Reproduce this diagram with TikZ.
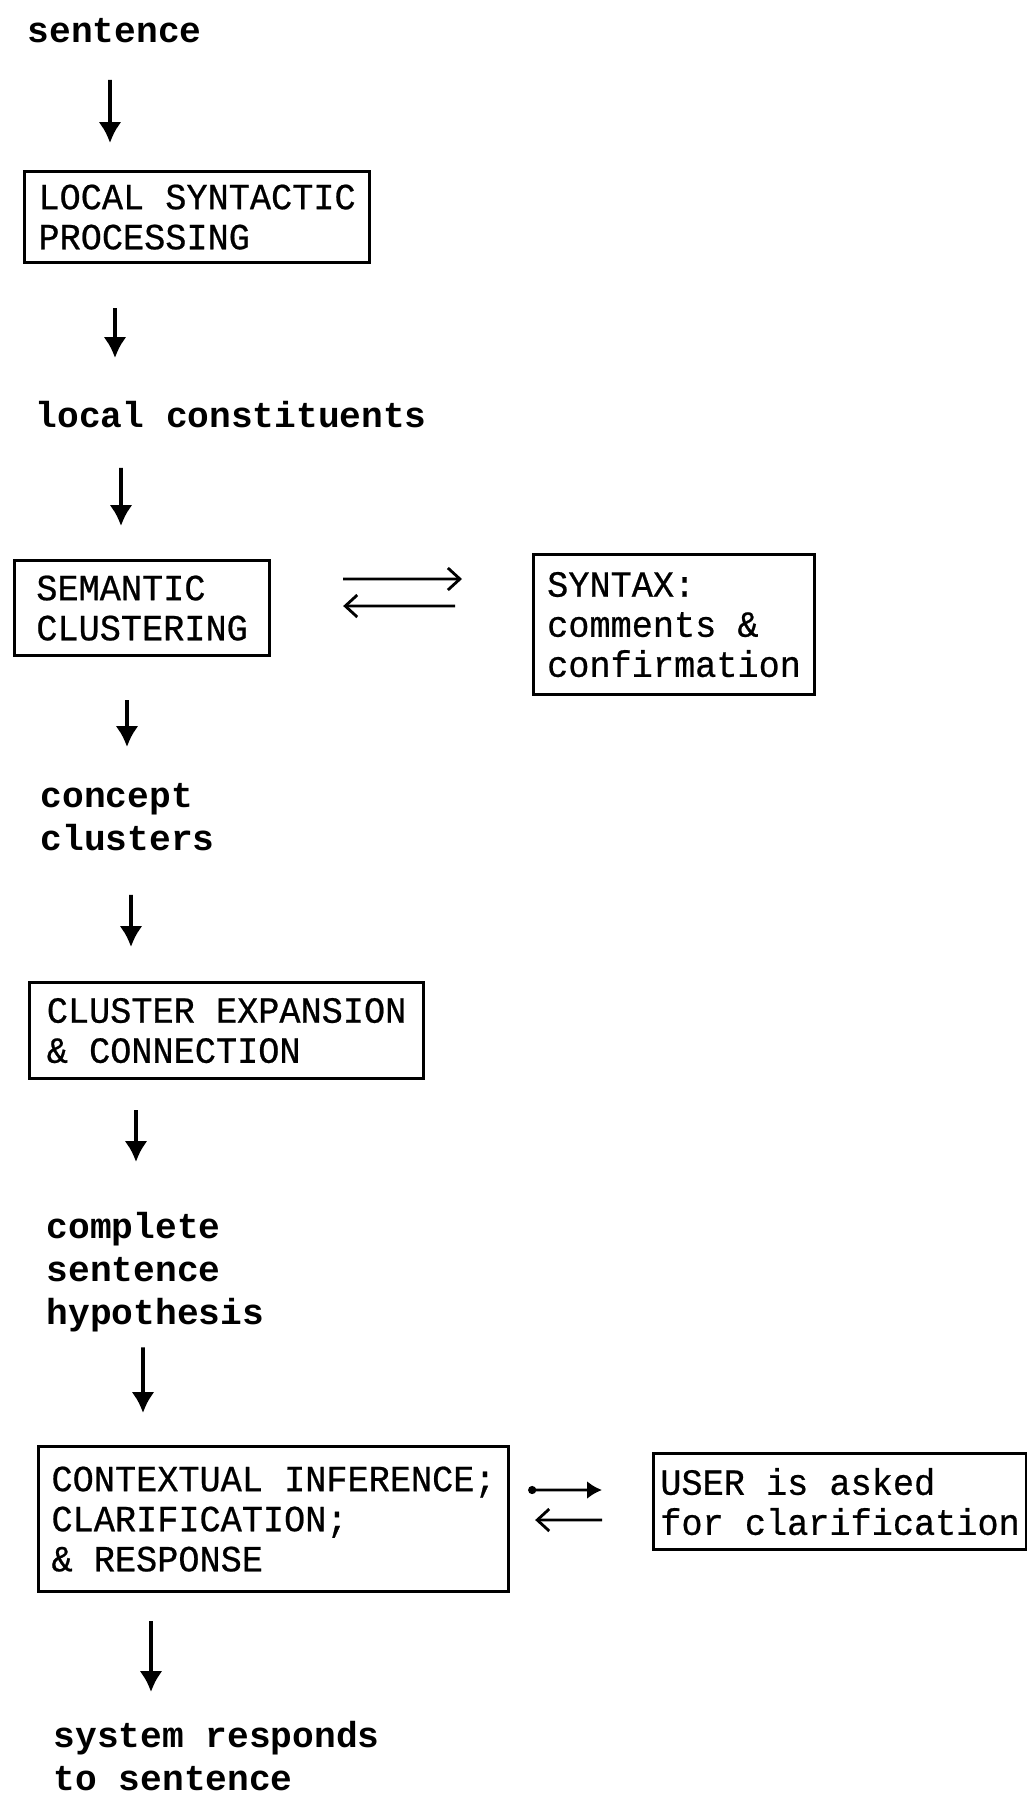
\documentclass[tikz,border=0pt]{standalone}
\usepackage{fontspec}
\usetikzlibrary{arrows.meta}

\newfontfamily\lblfont{Liberation Mono}
\newfontfamily\bxfont[FakeStretch=0.955,FakeBold=0.6]{Liberation Mono}

\tikzset{
  flowtext/.style={anchor=north west, align=left, inner sep=0pt,
    font=\lblfont\bfseries\fontsize{10.3}{12.1}\selectfont,
    execute at begin node=\strut, execute at end node=\strut},
  stage/.style={draw, line width=0.9pt, anchor=north west, align=left,
    inner sep=0pt, font=\bxfont\fontsize{10.5}{11.4}\selectfont},
  down/.style={line width=1.1pt, -{Latex[length=2.1mm,width=2.3mm]}},
  side/.style={line width=0.8pt, -{Straight Barb[length=1.2mm,width=2.2mm]}}
}

\begin{document}
\begin{tikzpicture}[x=1cm,y=1cm]
  % 1. Page frame
  \useasboundingbox (0,0) rectangle (10.27,-17.97);

  % 2. What flows between the stages
  \node[flowtext] (sent)  at (0.27,-0.12)  {sentence};
  \node[flowtext] (lcons) at (0.35,-3.97)  {local constituents};
  \node[flowtext] (ccl)   at (0.40,-7.83)  {concept\\clusters};
  \node[flowtext] (csh)   at (0.46,-12.12) {complete\\sentence\\hypothesis};
  \node[flowtext] (resp)  at (0.53,-17.21) {system responds\\to sentence};

  % 3. The processing stages
  \node[stage, minimum width=3.45cm, minimum height=0.91cm] (lsp) at (0.23,-1.70)
    {LOCAL SYNTACTIC\\PROCESSING};
  \node[stage, minimum width=2.55cm, minimum height=0.95cm] (sem) at (0.13,-5.59)
    {SEMANTIC\\CLUSTERING};
  \node[stage, minimum width=2.81cm, minimum height=1.40cm] (syn) at (5.32,-5.53)
    {SYNTAX:\\comments \&\\confirmation};
  \node[stage, minimum width=3.94cm, minimum height=0.96cm] (cec) at (0.28,-9.81)
    {CLUSTER EXPANSION\\\& CONNECTION};
  \node[stage, minimum width=4.70cm, minimum height=1.45cm] (cir) at (0.37,-14.45)
    {CONTEXTUAL INFERENCE;\\CLARIFICATION;\\\& RESPONSE};
  \node[stage, minimum width=3.73cm, minimum height=0.96cm] (user) at (6.52,-14.52)
    {USER is asked\\for clarification};

  % 4. Main flow, top to bottom
  \draw[down, shorten <=2.4mm, shorten >=2.7mm] ([xshift=8.3mm]sent.south west) -- ([xshift=8.7mm]lsp.north west);
  \draw[down, shorten <=4.4mm, shorten >=3.9mm] ([xshift=9.2mm]lsp.south west) -- ([xshift=8.0mm]lcons.north west);
  \draw[down, shorten <=2.7mm, shorten >=3.3mm] ([xshift=8.6mm]lcons.south west) -- ([xshift=10.8mm]sem.north west);
  \draw[down, shorten <=4.3mm, shorten >=3.6mm] ([xshift=11.4mm]sem.south west) -- ([xshift=8.7mm]ccl.north west);
  \draw[down, shorten <=3.1mm, shorten >=3.4mm] ([xshift=9.1mm]ccl.south west) -- ([xshift=10.3mm]cec.north west);
  \draw[down, shorten <=3.0mm, shorten >=5.0mm] ([xshift=10.8mm]cec.south west) -- ([xshift=9.0mm]csh.north west);
  \draw[down, shorten <=1.0mm, shorten >=3.2mm] ([xshift=9.7mm]csh.south west) -- ([xshift=10.6mm]cir.north west);
  \draw[down, shorten <=2.8mm, shorten >=2.9mm] ([xshift=11.4mm]cir.south west) -- ([xshift=9.8mm]resp.north west);

  % 5. Side exchanges
  \draw[side, shorten <=7.2mm, shorten >=7.0mm] ([yshift=-2.0mm]sem.north east) -- ([yshift=-2.6mm]syn.north west);
  \draw[side, shorten <=7.7mm, shorten >=7.2mm] ([yshift=-5.3mm]syn.north west) -- ([yshift=-4.7mm]sem.north east);
  \draw[line width=0.8pt, {Circle[length=0.8mm,sep=0.6mm]}-{Latex[length=1.5mm,width=1.8mm]},
        shorten <=1.2mm, shorten >=5.0mm] ([yshift=-4.5mm]cir.north east) -- ([yshift=-3.8mm]user.north west);
  \draw[side, shorten <=5.0mm, shorten >=2.5mm] ([yshift=-6.8mm]user.north west) -- ([yshift=-7.5mm]cir.north east);
\end{tikzpicture}
\end{document}
